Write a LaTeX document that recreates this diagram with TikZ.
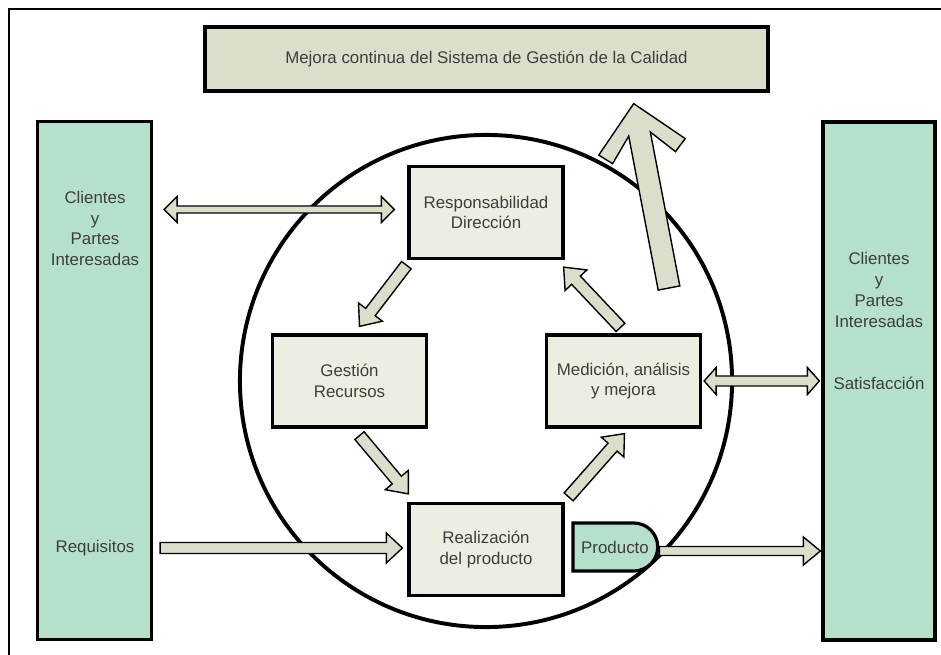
\documentclass[tikz,border=0pt]{standalone}
\usepackage{fontspec}
\setmainfont{Liberation Sans}
\usepackage{tikz}
\usetikzlibrary{calc, shapes.misc}

\definecolor{boxfill}{RGB}{236,238,226}
\definecolor{topfill}{RGB}{220,222,204}
\definecolor{arrowfill}{RGB}{220,222,204}
\definecolor{mint}{RGB}{181,224,203}
\definecolor{txt}{RGB}{62,62,62}

\begin{document}
\begin{tikzpicture}[x=0.025cm, y=-0.025cm,
        box/.style={draw, line width=2.3pt, fill=boxfill, text=txt, align=center, minimum width=3.85cm, minimum height=2.3cm, font=\fontsize{12}{14.7}\selectfont},
        colbox/.style={draw, line width=2.3pt, fill=mint, minimum width=2.85cm, minimum height=12.95cm},
        coltext/.style={text=txt, align=center, font=\fontsize{12}{14.8}\selectfont},
        blk/.style={draw, line width=1pt, fill=arrowfill, line join=miter}]
        \useasboundingbox (0,0) rectangle (941,655);
        \draw[line width=1.4pt] (9,665) -- (9,9) -- (950,9);

        % Mejora continua
        \node[box, fill=topfill, minimum width=14.075cm, minimum height=1.6cm] (mej) at (486.5,59) {Mejora continua del Sistema de Gestión de la Calidad};

        % Clientes (izquierda y derecha)
        \node[colbox] (cliL) at (94.5,380.5) {};
        \node[colbox, minimum width=2.8cm] (cliR) at (879,381) {};
        \node[coltext] (parL) at (95,228.5) {Clientes\\y\\Partes\\Interesadas};
        \node[coltext] (req) at (95,548) {Requisitos};
        \node[coltext] (parR) at (879,290) {Clientes\\y\\Partes\\Interesadas};
        \node[coltext] (sat) at (879,383) {Satisfacción};

        % Ciclo
        \draw[line width=2.8pt] (486,381) circle (6.15cm);
        \node[box] (res) at (486,212.5) {Responsabilidad\\Dirección};
        \node[box] (ges) at (349.5,381) {Gestión\\Recursos};
        \node[box] (med) at (623.5,381) {Medición, análisis\\y mejora};
        \node[box] (rea) at (486,549.5) {Realización\\del producto};
        \node[draw, line width=2.3pt, fill=mint, text=txt, rounded rectangle, rounded rectangle left arc=none, minimum width=2.35cm, minimum height=1.2cm, font=\fontsize{12}{14.7}\selectfont] (pro) at (615,547) {Producto};

        % Extremos de flechas
        \coordinate (r1) at ($(res.south west)+(-1,5)$);
        \coordinate (g1) at ($(ges.north)+(10,-7)$);
        \coordinate (g2) at ($(ges.south)+(10,7)$);
        \coordinate (e1) at ($(rea.north west)+(1,-8)$);
        \coordinate (e2) at ($(rea.north east)+(4,-5)$);
        \coordinate (m1) at ($(med.south)+(1,5)$);
        \coordinate (m2) at ($(med.north)+(-3,-6)$);
        \coordinate (r2) at ($(res.south east)+(-1,7)$);
        \coordinate (q1) at ($(cliL.east |- rea.west)+(7,-1.5)$);
        \coordinate (q2) at ($(rea.west)+(-5,-1.5)$);
        \coordinate (p1) at ($(pro.east)+(0,4)$);
        \coordinate (p2) at ($(cliR.west |- pro.east)+(-1,4)$);
        \coordinate (d1) at ($(cliL.east |- res.west)+(11,-3)$);
        \coordinate (d2) at ($(res.west)+(-13,-3)$);
        \coordinate (s1) at ($(med.east)+(2,0)$);
        \coordinate (s2) at ($(cliR.west |- med.east)+(-2,0)$);

        % Flechas simples
        \foreach \a/\b/\sh/\hw/\hl in {r1/g1/0.15cm/0.375cm/0.45cm, g2/e1/0.15cm/0.375cm/0.45cm, e2/m1/0.15cm/0.375cm/0.45cm, m2/r2/0.15cm/0.375cm/0.45cm, q1/q2/0.1375cm/0.375cm/0.4cm, p1/p2/0.1125cm/0.35cm/0.425cm} {
            \coordinate (h) at ($(\b)!\hl!(\a)$);
            \filldraw[blk] ($(\a)!\sh!90:(\b)$) -- ($(h)!\sh!90:(\b)$) -- ($(h)!\hw!90:(\b)$) -- (\b) -- ($(h)!\hw!-90:(\b)$) -- ($(h)!\sh!-90:(\b)$) -- ($(\a)!\sh!-90:(\b)$) -- cycle;
        }

        % Flechas dobles
        \foreach \a/\b/\sh/\hw/\hl in {d1/d2/0.0875cm/0.325cm/0.325cm, s1/s2/0.125cm/0.3375cm/0.3cm} {
            \coordinate (h1) at ($(\a)!\hl!(\b)$);
            \coordinate (h2) at ($(\b)!\hl!(\a)$);
            \filldraw[blk] (\a) -- ($(h1)!\hw!90:(\b)$) -- ($(h1)!\sh!90:(\b)$) -- ($(h2)!\sh!90:(\b)$) -- ($(h2)!\hw!90:(\b)$) -- (\b) -- ($(h2)!\hw!-90:(\b)$) -- ($(h2)!\sh!-90:(\b)$) -- ($(h1)!\sh!-90:(\b)$) -- ($(h1)!\hw!-90:(\b)$) -- cycle;
        }

        % Flecha de mejora
        \coordinate (b1) at (669,288);
        \coordinate (b2) at ($(mej.south east)+(-136,11)$);
        \coordinate (k1) at ($(b2)!0.775cm!(b1)$);
        \coordinate (k2) at ($(b2)!1.1cm!(b1)$);
        \coordinate (k3) at ($(b2)!1.375cm!(b1)$);
        \filldraw[blk] (b2) -- ($(k2)!1.1cm!90:(b2)$) -- ($(k3)!0.8cm!90:(b2)$) -- ($(k1)!0.275cm!90:(b2)$) -- ($(b1)!0.275cm!90:(b2)$) -- ($(b1)!0.275cm!-90:(b2)$) -- ($(k1)!0.275cm!-90:(b2)$) -- ($(k3)!0.8cm!-90:(b2)$) -- ($(k2)!1.1cm!-90:(b2)$) -- cycle;
\end{tikzpicture}
\end{document}
